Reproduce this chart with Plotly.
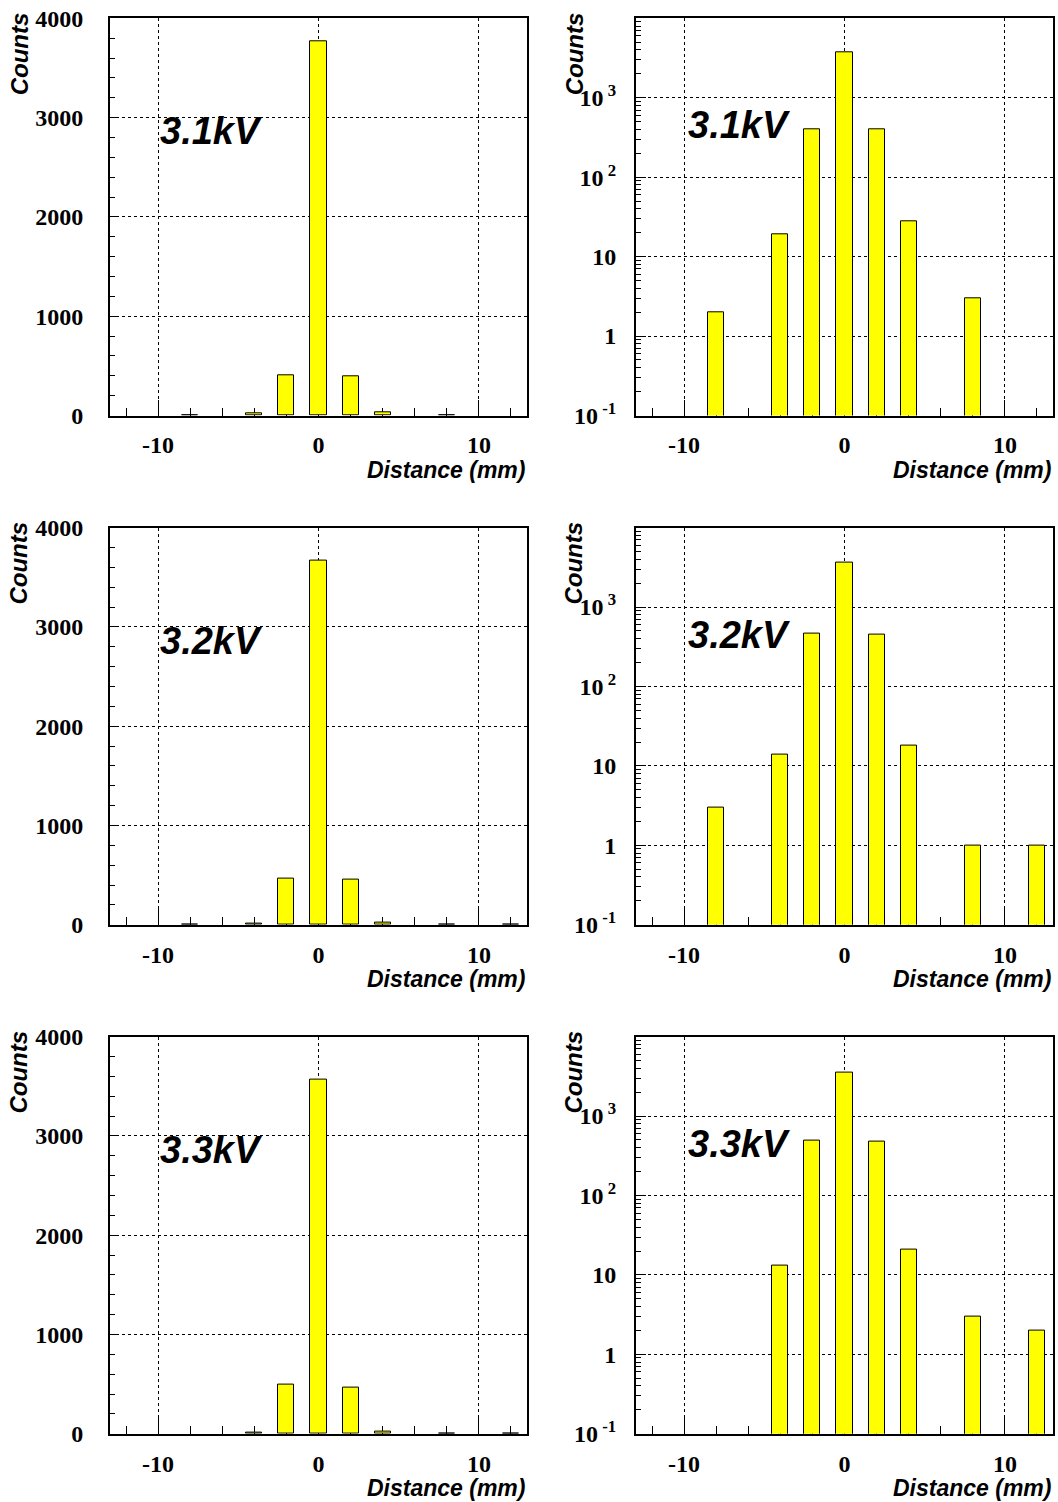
import plotly.graph_objects as go

# Bin centres of the distance histogram (2 mm bins from -13 to 13 mm)
bin_centers = [-12, -10, -8, -6, -4, -2, 0, 2, 4, 6, 8, 10, 12]

# Counts per bin for each high-voltage setting
counts_3_1kV = [0, 0, 2, 0, 19, 400, 3770, 395, 28, 0, 3, 0, 0]
counts_3_2kV = [0, 0, 3, 0, 14, 465, 3665, 455, 18, 0, 1, 0, 1]
counts_3_3kV = [0, 0, 0, 0, 13, 493, 3565, 470, 21, 0, 3, 0, 2]

voltage_labels = ["3.1kV", "3.2kV", "3.3kV"]
series = [counts_3_1kV, counts_3_2kV, counts_3_3kV]

x_tick_values = [-10, 0, 10]
x_tick_text = ["-10", "0", "10"]
log_tick_values = [0.1, 1, 10, 100, 1000]
log_tick_text = ["10<sup> -1</sup>", "1", "10", "10<sup> 2</sup>", "10<sup> 3</sup>"]

W, H = 1058, 1502
col_left = [(110, 527), (636, 1053)]
row_top = [18.3, 527.6, 1036.6]
panel_h = 397.2

SERIF = "Liberation Serif"
SANS = "Liberation Sans"


def px(x):
    return x / W


def py(y):
    return 1 - y / H


fig = go.Figure()
annotations = []

for r, (label, counts) in enumerate(zip(voltage_labels, series)):
    for c in range(2):
        idx = r * 2 + c + 1
        xname = "x" if idx == 1 else f"x{idx}"
        yname = "y" if idx == 1 else f"y{idx}"
        is_log = c == 1
        # empty bins are left undrawn
        yvals = [v if v > 0 else None for v in counts]
        fig.add_trace(go.Bar(
            x=bin_centers, y=yvals, width=1.0,
            marker=dict(color="#ffff00", line=dict(color="black", width=1)),
            xaxis=xname, yaxis=yname, showlegend=False,
        ))

        x0, x1 = col_left[c]
        top = row_top[r]
        bottom = top + panel_h
        xa = dict(
            domain=[px(x0), px(x1)], anchor=yname, range=[-13, 13],
            automargin=False, layer="below traces",
            tickmode="array", tickvals=x_tick_values, ticktext=x_tick_text,
            ticks="inside", ticklen=16, tickwidth=1, tickcolor="black",
            minor=dict(tickmode="linear", tick0=0, dtick=2, ticks="inside",
                       ticklen=8, tickwidth=1, tickcolor="black", showgrid=False),
            showgrid=True, gridcolor="black", griddash="dot", gridwidth=1,
            showline=True, linecolor="black", linewidth=2, mirror=True,
            zeroline=False, ticklabelstandoff=7,
            tickfont=dict(family=SERIF, size=24, color="black", weight="bold"),
        )
        ya = dict(
            domain=[py(bottom), py(top)], anchor=xname,
            automargin=False, layer="below traces",
            ticks="inside", tickwidth=1, tickcolor="black",
            showgrid=True, gridcolor="black", griddash="dot", gridwidth=1,
            showline=True, linecolor="black", linewidth=2, mirror=True,
            zeroline=False,
            tickfont=dict(family=SERIF, size=24, color="black", weight="bold"),
        )
        if is_log:
            ya.update(type="log", range=[-1, 4], tickmode="array",
                      tickvals=log_tick_values, ticktext=log_tick_text,
                      ticklen=10, ticklabelstandoff=13,
                      minor=dict(dtick="D1", ticks="inside", ticklen=5,
                                 tickwidth=1, tickcolor="black", showgrid=False))
        else:
            ya.update(range=[0, 4000], tickmode="linear", tick0=0, dtick=1000,
                      ticklen=9, ticklabelstandoff=20,
                      minor=dict(tickmode="linear", tick0=0, dtick=200,
                                 ticks="inside", ticklen=5, tickwidth=1,
                                 tickcolor="black", showgrid=False))
        fig.update_layout({("xaxis" if idx == 1 else f"xaxis{idx}"): xa,
                           ("yaxis" if idx == 1 else f"yaxis{idx}"): ya})

        # axis titles
        annotations.append(dict(
            text="Counts", textangle=-90, xref="paper", yref="paper",
            x=px(x0 - (91 if c == 0 else 62)), y=py(top + 36),
            xanchor="center", yanchor="middle", showarrow=False,
            font=dict(family=SANS, size=24, color="black", weight="bold", style="italic"),
        ))
        annotations.append(dict(
            text="Distance (mm)", xref="paper", yref="paper",
            x=px(x1), y=py(bottom + 54), xanchor="right", yanchor="middle",
            showarrow=False,
            font=dict(family=SANS, size=23, color="black", weight="bold", style="italic"),
        ))
        # voltage label inside the panel
        annotations.append(dict(
            text=label, xref="paper", yref="paper",
            x=px(x0 + (48 if c == 0 else 50)), y=py(top + (113 if c == 0 else 107)),
            xanchor="left", yanchor="middle", showarrow=False,
            font=dict(family=SANS, size=38, color="black", weight="bold", style="italic"),
        ))

fig.update_layout(
    width=W, height=H, margin=dict(l=0, r=0, t=0, b=0),
    paper_bgcolor="white", plot_bgcolor="white",
    bargap=0, annotations=annotations,
)

fig.write_html("out.html")
